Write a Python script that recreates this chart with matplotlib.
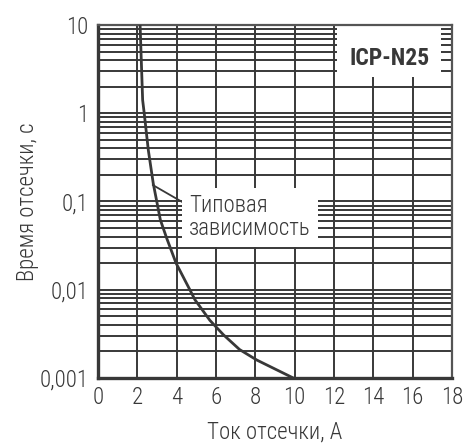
import matplotlib
matplotlib.use("Agg")
import matplotlib.pyplot as plt
from matplotlib.patches import Rectangle
from matplotlib.ticker import FixedLocator, FixedFormatter, LogLocator, NullFormatter

# curve
current = [2.14, 2.27, 2.35, 2.56, 2.81, 3.17, 3.5, 3.97, 4.68, 4.93, 5.69, 6.37, 7.2, 8.07, 9.93]
trip_time = [10, 1.41, 1.0, 0.38, 0.16, 0.062, 0.038, 0.020, 0.0099, 0.0077, 0.0045, 0.0031, 0.0021, 0.0016, 0.001]

x_ticks = [0, 2, 4, 6, 8, 10, 12, 14, 16, 18]
y_ticks = [0.001, 0.01, 0.1, 1, 10]
y_labels = ["0,001", "0,01", "0,1", "1", "10"]

ink = "#383838"
plt.rcParams['font.family'] = ['Roboto Condensed', 'DejaVu Sans']
plt.rcParams['font.weight'] = 'light'
plt.rcParams['axes.labelweight'] = 'light'

fig = plt.figure(figsize=(4.76, 4.44), dpi=100)
ax = fig.add_axes([98/476, 66/444, 354/476, 353/444])

ax.set_yscale("log")
ax.set_xlim(0, 18)
ax.set_ylim(0.001, 10)

ax.xaxis.set_major_locator(FixedLocator(x_ticks))
ax.yaxis.set_major_locator(FixedLocator(y_ticks))
ax.yaxis.set_major_formatter(FixedFormatter(y_labels))
ax.yaxis.set_minor_locator(LogLocator(base=10, subs=range(2, 10)))
ax.yaxis.set_minor_formatter(NullFormatter())

ax.grid(True, which="major", axis="both", color=ink, lw=1.4)
ax.grid(True, which="minor", axis="y", color=ink, lw=1.4)
ax.set_axisbelow(True)

ax.tick_params(which="both", length=0, labelsize=16.5, colors=ink)
ax.tick_params(axis="x", pad=6)
ax.tick_params(axis="y", pad=7)

for side in ["left", "bottom"]:
    ax.spines[side].set_linewidth(2.4)
    ax.spines[side].set_color(ink)
for side in ["top", "right"]:
    ax.spines[side].set_linewidth(1.6)
    ax.spines[side].set_color("#555555")

ax.plot(current, trip_time, color=ink, lw=2.0, zorder=4)

ax.annotate("Типовая\nзависимость", xy=(2.78, 0.154), xytext=(4.63, 0.066),
            fontsize=16.5, color=ink, ha="left", va="center", linespacing=1.0,
            bbox=dict(boxstyle="square,pad=0.3", fc="white", ec="none"),
            arrowprops=dict(arrowstyle="-", color=ink, lw=1.3, shrinkA=0, shrinkB=0,
                            relpos=(0.0, 0.75)),
            zorder=3)

ax.add_patch(Rectangle((0.675, 0.853), 0.294, 0.147, transform=ax.transAxes,
                       fc="white", ec="none", zorder=2.5))
ax.text(0.823, 0.887, "ICP-N25", transform=ax.transAxes, fontsize=17, fontweight="bold",
        color=ink, ha="center", va="baseline", zorder=3)

ax.set_xlabel("Ток отсечки, А", fontsize=16.5, color=ink)
ax.xaxis.set_label_coords(0.5, -0.172)
ax.xaxis.label.set_va("baseline")
ax.set_ylabel("Время отсечки, с", fontsize=16.5, color=ink)
ax.yaxis.set_label_coords(-0.198, 0.5)
ax.yaxis.label.set_va("center")

fig.savefig("out.png", dpi=100)
